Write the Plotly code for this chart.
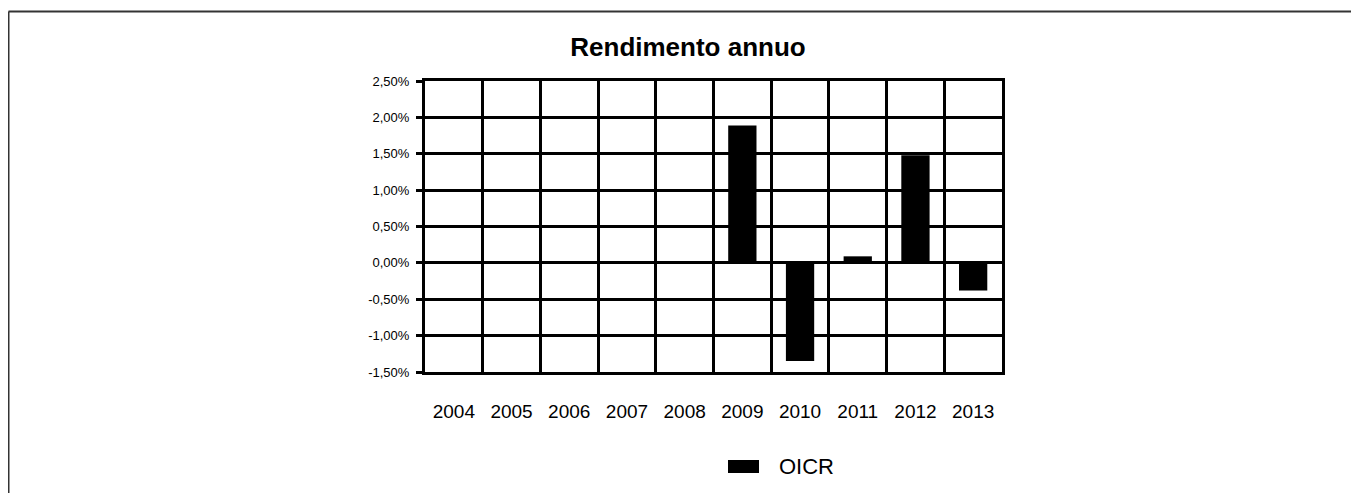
import plotly.graph_objects as go

years = ["2004", "2005", "2006", "2007", "2008", "2009", "2010", "2011", "2012", "2013"]
oicr_pct = [None, None, None, None, None, 1.89, -1.35, 0.09, 1.48, -0.38]
series_name = "OICR"
title_text = "Rendimento annuo"
y_ticks_pct = [-1.5, -1.0, -0.5, 0.0, 0.5, 1.0, 1.5, 2.0, 2.5]

FONT = "Liberation Sans, Arial, sans-serif"

# the page body has an 8px margin; work in reference-pixel coordinates and shift
OFF = 8
W, H = 1359 - OFF, 493 - OFF
L, R, T, B = 425 - OFF, 1002 - OFF, 81 - OFF, 372 - OFF
pw, ph = R - L, B - T


def px(x):
    return (x - OFF - L) / pw


def py(y):
    return (B - (y - OFF)) / ph


y_ticktext = [(f"{v:.2f}%").replace(".", ",") for v in y_ticks_pct]

fig = go.Figure()
fig.add_trace(go.Bar(
    x=years,
    y=[v / 100 if v is not None else None for v in oicr_pct],
    name=series_name,
    marker=dict(color="black", line=dict(width=0)),
    width=0.49,
    showlegend=False,
))

fig.update_layout(
    width=W, height=H,
    margin=dict(l=L, r=W - R, t=T, b=H - B, autoexpand=False),
    paper_bgcolor="white", plot_bgcolor="white",
    font=dict(family=FONT, color="black"),
    title=dict(text="<b>" + title_text + "</b>", x=(688 - OFF) / W, xref="container", xanchor="center",
               y=1 - (47 - OFF) / H, yref="container", yanchor="middle",
               font=dict(size=26, family=FONT, color="black")),
)

fig.update_xaxes(
    type="category", tickson="boundaries", showgrid=True, gridcolor="black", gridwidth=3,
    showline=True, linecolor="black", linewidth=3, mirror=True,
    ticks="", tickfont=dict(size=19, family=FONT, color="black"),
    ticklabelstandoff=20, range=[-0.5, 9.5],
)
fig.update_yaxes(
    range=[-0.015, 0.025], tickvals=[v / 100 for v in y_ticks_pct], ticktext=y_ticktext,
    showgrid=True, gridcolor="black", gridwidth=3,
    zeroline=True, zerolinecolor="black", zerolinewidth=3,
    showline=True, linecolor="black", linewidth=3, mirror=True,
    ticks="outside", ticklen=6, tickwidth=3, tickcolor="black",
    tickfont=dict(size=13, family=FONT, color="black"), ticklabelstandoff=4,
)

# outer frame (top and left edges visible)
fig.add_shape(type="line", xref="paper", yref="paper", x0=px(8.5), x1=px(1365), y0=py(11.5), y1=py(11.5),
              line=dict(color="#333333", width=2))
fig.add_shape(type="line", xref="paper", yref="paper", x0=px(8.5), x1=px(8.5), y0=py(11.5), y1=py(500),
              line=dict(color="#333333", width=2))

# legend
fig.add_shape(type="rect", xref="paper", yref="paper", x0=px(728), x1=px(759), y0=py(460), y1=py(473),
              fillcolor="black", line=dict(width=0))
fig.add_annotation(text=series_name, xref="paper", yref="paper", x=px(777), y=py(466),
                   xanchor="left", yanchor="middle", showarrow=False,
                   font=dict(size=22, family=FONT, color="black"))

fig.write_html("out.html")
